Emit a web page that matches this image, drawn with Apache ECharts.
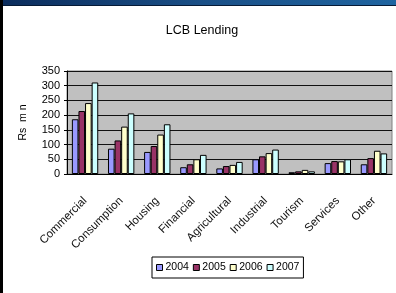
<!DOCTYPE html>
<html lang="en">
<head>
<meta charset="UTF-8">
<title>LCB Lending</title>
<script src="https://cdn.jsdelivr.net/npm/echarts@6/dist/echarts.min.js"></script>
<style>
  html, body { margin: 0; padding: 0; background: #fff; }
  #wrap { position: relative; width: 396px; height: 293px; overflow: hidden; }
  #topbar { position: absolute; left: 0; top: 0; width: 396px; height: 5px;
    background: linear-gradient(to right, #0b2c5c, #1a4f86 50%, #1f64a0);
    border-bottom: 1px solid #061a36; }
  #leftbar { position: absolute; left: 0; top: 0; width: 3px; height: 293px; background: #000; }
  #chart { position: absolute; left: 0; top: 0; width: 396px; height: 293px; }
</style>
</head>
<body>
<div id="wrap">
  <div id="chart"></div>
  <div id="topbar"></div>
  <div id="leftbar"></div>
</div>
<script>
// 数据
const categories = ['Commercial', 'Consumption', 'Housing', 'Financial', 'Agricultural',
  'Industrial', 'Tourism', 'Services', 'Other'];
const years = ['2004', '2005', '2006', '2007'];
const v2004 = [186, 86, 75, 23, 19, 50, 6, 37, 33];
const v2005 = [214, 114, 95, 33, 27, 60, 9, 44, 54];
const v2006 = [241, 161, 134, 50, 31, 71, 14, 43, 79];
const v2007 = [311, 206, 169, 65, 41, 83, 9, 50, 70];
const yTicks = [0, 50, 100, 150, 200, 250, 300, 350];

const colors = ['#9999FF', '#993366', '#FFFFCC', '#CCFFFF'];
const font = 'Liberation Sans, Arial, sans-serif';
const chart = echarts.init(document.getElementById('chart'));

const series = [v2004, v2005, v2006, v2007].map((vals, i) => ({
  name: years[i],
  type: 'bar',
  data: vals,
  barGap: '0%',
  barCategoryGap: '27%',
  itemStyle: { color: colors[i], borderColor: '#000', borderWidth: 1 }
}));

chart.setOption({
  animation: false,
  textStyle: { fontFamily: font },
  title: {
    text: 'LCB Lending',
    left: 202, top: 24, textAlign: 'center', padding: 0,
    textStyle: { fontSize: 12.5, fontWeight: 'normal', color: '#000', fontFamily: font }
  },
  legend: {
    data: years,
    left: 152, top: 257,
    padding: [5, 4],
    itemWidth: 6, itemHeight: 6, itemGap: 4,
    borderColor: '#000', borderWidth: 1,
    backgroundColor: '#fff',
    icon: 'rect',
    itemStyle: { borderColor: '#000', borderWidth: 1 },
    textStyle: { fontSize: 10.5, color: '#000', fontFamily: font, padding: [0, 0, 0, -2] }
  },
  grid: {
    left: 67, right: 4, top: 71, bottom: 119,
    show: true, backgroundColor: '#C0C0C0', borderColor: '#808080', borderWidth: 1
  },
  xAxis: {
    type: 'category',
    data: categories,
    axisLine: { lineStyle: { color: '#000' } },
    axisTick: { length: 3, lineStyle: { color: '#000' } },
    axisLabel: { interval: 0, rotate: 45, margin: 25, fontSize: 11.5, color: '#111', fontFamily: font }
  },
  yAxis: {
    type: 'value',
    min: yTicks[0], max: yTicks[yTicks.length - 1], interval: 50,
    name: 'Rs  m n',
    nameLocation: 'middle', nameGap: 38, nameRotate: 90,
    nameTextStyle: { fontSize: 10.5, color: '#000', fontFamily: font },
    axisLine: { show: true, lineStyle: { color: '#000' } },
    axisTick: { show: true, length: 3, lineStyle: { color: '#000' } },
    axisLabel: { fontSize: 11, color: '#000', margin: 7, fontFamily: font },
    splitLine: { lineStyle: { color: '#111', width: 1 } }
  },
  series: series
});
</script>
</body>
</html>
